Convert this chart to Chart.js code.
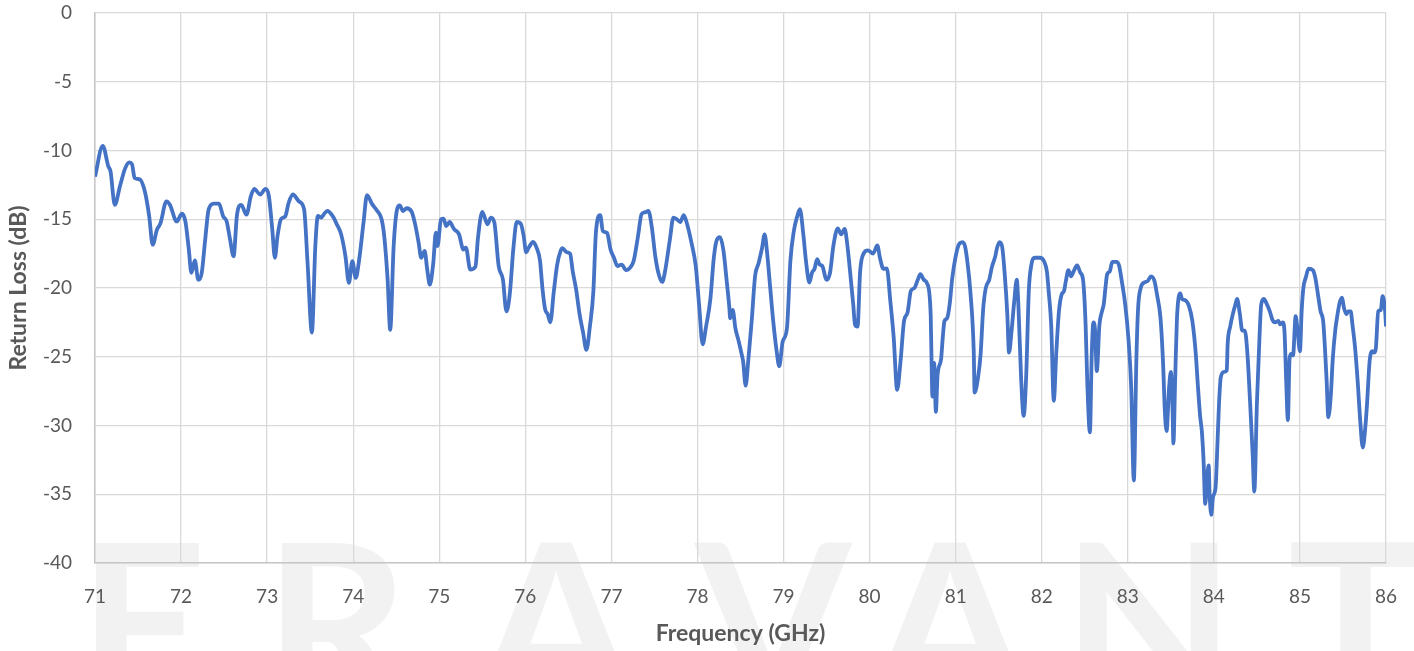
<!DOCTYPE html>
<html>
<head>
<meta charset="utf-8">
<title>Return Loss</title>
<script src="https://cdn.jsdelivr.net/npm/chart.js@4.4.1/dist/chart.umd.min.js"></script>
<style>
    html, body { margin: 0; padding: 0; background: #ffffff; }
    #wrap { position: absolute; left: 0; top: 0; width: 1414px; height: 651px; }
</style>
</head>
<body>
<div id="wrap"><canvas id="rl-chart" width="1414" height="651"></canvas></div>
<script>
const freqGHz = [
    71.00, 71.09, 71.155, 71.18, 71.23, 71.29, 71.35, 71.40, 71.43, 71.46, 71.52, 71.58, 71.63, 71.67, 71.72, 71.76, 71.83, 71.87, 71.95,
    72.01, 72.05, 72.09, 72.12, 72.16, 72.20, 72.24, 72.28, 72.32, 72.38, 72.44, 72.49, 72.53, 72.57, 72.61, 72.65, 72.70, 72.76, 72.81, 72.85, 72.92, 72.98,
    73.02, 73.06, 73.09, 73.12, 73.16, 73.21, 73.25, 73.30, 73.37, 73.43, 73.47, 73.52, 73.56, 73.59, 73.63, 73.66, 73.70, 73.76, 73.81, 73.86, 73.91, 73.95, 73.99,
    74.03, 74.07, 74.12, 74.16, 74.22, 74.28, 74.33, 74.36, 74.40, 74.43, 74.47, 74.51, 74.54, 74.58, 74.62, 74.68, 74.72, 74.76, 74.79, 74.83, 74.86, 74.89, 74.93, 74.96, 74.98,
    75.02, 75.05, 75.08, 75.12, 75.17, 75.23, 75.28, 75.31, 75.36, 75.42, 75.45, 75.50, 75.56, 75.60, 75.64, 75.69, 75.74, 75.78, 75.82, 75.86, 75.90, 75.95, 75.98,
    76.01, 76.04, 76.09, 76.13, 76.17, 76.20, 76.23, 76.26, 76.29, 76.33, 76.37, 76.41, 76.43, 76.48, 76.52, 76.55, 76.59, 76.63, 76.67, 76.71, 76.75, 76.79, 76.82, 76.87, 76.90, 76.95, 76.99,
    77.03, 77.07, 77.12, 77.17, 77.22, 77.26, 77.31, 77.35, 77.39, 77.43, 77.47, 77.51, 77.55, 77.59, 77.62, 77.68, 77.72, 77.76, 77.80, 77.84, 77.88, 77.93, 77.98,
    78.02, 78.06, 78.10, 78.15, 78.19, 78.22, 78.26, 78.30, 78.34, 78.37, 78.38, 78.41, 78.44, 78.48, 78.52, 78.53, 78.56, 78.59, 78.63, 78.67, 78.71, 78.75, 78.78, 78.81, 78.84, 78.88, 78.92, 78.95, 78.99,
    79.04, 79.08, 79.12, 79.16, 79.19, 79.23, 79.26, 79.30, 79.33, 79.36, 79.39, 79.42, 79.45, 79.50, 79.54, 79.58, 79.63, 79.67, 79.71, 79.74, 79.78, 79.81, 79.83, 79.86, 79.89, 79.93, 79.98,
    80.04, 80.09, 80.12, 80.16, 80.20, 80.24, 80.28, 80.32, 80.36, 80.40, 80.44, 80.48, 80.52, 80.56, 80.59, 80.63, 80.67, 80.71, 80.72, 80.73, 80.75, 80.77, 80.79, 80.83, 80.85, 80.87, 80.90, 80.93, 80.96,
    81.00, 81.04, 81.08, 81.11, 81.14, 81.17, 81.21, 81.22, 81.26, 81.29, 81.32, 81.35, 81.39, 81.42, 81.46, 81.48, 81.51, 81.54, 81.57, 81.60, 81.62, 81.65, 81.68, 81.71, 81.73, 81.76, 81.79, 81.82, 81.85, 81.88, 81.92, 81.98,
    82.03, 82.06, 82.08, 82.11, 82.14, 82.17, 82.20, 82.23, 82.26, 82.28, 82.31, 82.34, 82.37, 82.41, 82.45, 82.48, 82.51, 82.53, 82.56, 82.58, 82.60, 82.62, 82.64, 82.67, 82.70, 82.72, 82.74, 82.76, 82.79, 82.82, 82.87, 82.90, 82.93, 82.97,
    83.01, 83.04, 83.07, 83.10, 83.12, 83.15, 83.19, 83.23, 83.27, 83.31, 83.34, 83.38, 83.41, 83.43, 83.45, 83.48, 83.50, 83.52, 83.53, 83.55, 83.57, 83.59, 83.61, 83.63, 83.67, 83.71, 83.75, 83.79, 83.81, 83.84, 83.86, 83.88, 83.90, 83.92, 83.94, 83.95, 83.97, 83.99,
    84.02, 84.04, 84.06, 84.08, 84.12, 84.15, 84.16, 84.19, 84.22, 84.25, 84.27, 84.30, 84.33, 84.36, 84.39, 84.42, 84.45, 84.47, 84.50, 84.53, 84.55, 84.58, 84.61, 84.65, 84.68, 84.71, 84.75, 84.77, 84.80, 84.82, 84.84, 84.86, 84.88, 84.90, 84.92, 84.95, 84.97,
    85.00, 85.02, 85.04, 85.07, 85.10, 85.15, 85.18, 85.21, 85.24, 85.27, 85.29, 85.31, 85.33, 85.36, 85.38, 85.41, 85.44, 85.46, 85.49, 85.51, 85.54, 85.56, 85.59, 85.61, 85.64, 85.67, 85.70, 85.73, 85.76, 85.78, 85.81, 85.84, 85.86, 85.88, 85.91, 85.94, 85.96, 85.99,
    86.00
];

const returnLossDb = [
    -11.9, -9.66, -11.16, -11.5, -13.95, -12.6, -11.3, -10.87, -11.0, -12.0, -12.1, -13.0, -14.8, -16.85, -15.76, -15.3, -13.7, -13.95, -15.16,
    -14.6, -15.16, -17.2, -18.9, -18.0, -19.4, -18.9, -16.5, -14.3, -13.87, -13.87, -14.8, -15.16, -16.5, -17.7, -14.67, -13.95, -14.67, -13.34, -12.8, -13.2, -12.8,
    -13.3, -15.76, -17.8, -16.25, -15.0, -14.8, -13.8, -13.2, -13.7, -14.3, -18.2, -23.24, -16.95, -14.76, -14.88, -14.63, -14.4, -14.76, -15.37, -16.1, -17.7, -19.63, -18.05,
    -19.27, -17.9, -15.24, -13.24, -13.9, -14.4, -15.0, -16.2, -19.4, -23.05, -16.95, -14.27, -14.0, -14.4, -14.2, -14.46, -15.37, -16.7, -17.8, -17.3, -18.66, -19.76, -18.2, -15.98, -16.95,
    -15.0, -14.95, -15.5, -15.2, -15.7, -16.1, -17.2, -17.07, -18.66, -18.46, -16.34, -14.46, -15.37, -14.88, -15.24, -18.4, -19.4, -21.7, -20.4, -17.2, -15.2, -15.36, -16.2,
    -17.4, -17.06, -16.65, -17.06, -18.0, -20.1, -21.55, -21.9, -22.5, -20.3, -18.3, -17.3, -17.1, -17.4, -17.5, -18.76, -20.1, -21.9, -23.2, -24.5, -22.8, -20.3, -15.97, -14.7, -15.85, -16.0, -17.2,
    -17.8, -18.4, -18.3, -18.7, -18.5, -18.0, -16.2, -14.64, -14.5, -14.4, -15.6, -17.7, -19.0, -19.56, -18.9, -16.46, -14.88, -15.0, -15.2, -14.7, -15.36, -16.7, -18.4,
    -21.3, -24.1, -22.8, -20.8, -17.8, -16.6, -16.3, -17.2, -19.5, -21.4, -22.2, -21.6, -22.9, -23.9, -25.0, -25.3, -27.1, -25.3, -22.4, -19.1, -18.2, -17.1, -16.1, -17.5, -19.6, -22.4, -24.6, -25.7, -23.9,
    -22.9, -18.0, -15.85, -14.76, -14.27, -16.1, -18.0, -19.6, -18.9, -18.6, -17.9, -18.3, -18.4, -19.4, -18.9, -16.9, -15.66, -16.1, -15.7, -16.8, -19.25, -21.2, -22.65, -22.8, -18.8, -17.5, -17.26,
    -17.5, -16.9, -17.8, -18.6, -18.57, -20.9, -23.6, -27.4, -25.3, -22.4, -21.8, -20.2, -20.0, -19.4, -19.0, -19.4, -19.7, -22.0, -25.4, -27.9, -25.45, -29.0, -26.3, -25.2, -23.6, -22.4, -22.2, -21.2, -19.3,
    -17.7, -16.8, -16.66, -17.0, -18.3, -20.2, -24.6, -27.6, -26.5, -24.8, -21.5, -20.0, -19.4, -18.5, -17.7, -17.1, -16.66, -17.0, -19.0, -21.9, -24.7, -23.1, -21.0, -19.4, -21.45, -26.5, -29.3, -26.3, -20.2, -18.3, -17.8, -17.8,
    -18.1, -18.8, -20.2, -22.7, -28.2, -24.6, -21.7, -20.5, -20.2, -19.5, -18.7, -19.15, -18.8, -18.35, -18.9, -19.4, -22.7, -27.0, -30.5, -25.1, -22.5, -23.1, -26.05, -22.7, -21.7, -21.2, -20.0, -19.0, -18.8, -18.1, -18.1, -18.4, -19.5, -21.2,
    -23.9, -27.3, -34.0, -25.1, -21.45, -20.0, -19.6, -19.5, -19.16, -19.5, -20.5, -22.2, -25.5, -28.9, -30.4, -27.2, -26.1, -28.9, -31.3, -26.7, -22.4, -20.7, -20.4, -20.8, -20.9, -21.3, -22.4, -24.8, -26.7, -29.3, -30.4, -32.5, -35.7, -34.0, -32.9, -34.9, -36.5, -35.2,
    -34.5, -31.6, -28.4, -26.5, -26.1, -26.0, -24.1, -22.8, -21.9, -21.2, -20.8, -21.8, -23.1, -23.1, -24.8, -28.2, -32.0, -34.8, -28.4, -23.6, -21.2, -20.8, -21.1, -21.7, -22.3, -22.5, -22.4, -22.65, -22.5, -23.1, -26.7, -29.6, -25.1, -24.8, -24.9, -22.05, -22.9,
    -24.6, -21.7, -20.0, -19.2, -18.6, -18.7, -19.3, -20.5, -21.7, -22.4, -24.3, -26.7, -29.4, -27.7, -25.3, -23.1, -21.8, -21.1, -20.7, -21.4, -21.9, -21.7, -21.7, -22.65, -24.3, -26.7, -29.6, -31.6, -30.1, -28.4, -25.3, -24.6, -24.7, -24.5, -21.7, -21.6, -20.6, -21.7,
    -22.8
];

// Axis ranges
const xRange = [71, 86];
const yRange = [-40, 0];

// Build the point list for the line
const points = freqGHz.map((f, i) => ({ x: f, y: returnLossDb[i] }));

// Light grey brand mark behind the plot
const watermarkPlugin = {
    id: 'watermark',
    beforeDraw(chart) {
        const ctx = chart.ctx;
        ctx.save();
        ctx.fillStyle = '#ffffff';
        ctx.fillRect(0, 0, chart.width, chart.height);
        ctx.fillStyle = '#f2f2f2';
        ctx.font = 'bold 225px Lato';
        ctx.textBaseline = 'alphabetic';
        const marks = [['E', 78], ['R', 264], ['A', 478], ['V', 695], ['A', 872], ['N', 1062], ['T', 1288]];
        marks.forEach(function (m) {
            ctx.fillText(m[0], m[1], 705);
        });
        ctx.restore();
    }
};

const textGrey = '#595959';
const gridGrey = '#d9d9d9';

const config = {
    type: 'line',
    data: {
        datasets: [{
            label: 'Return Loss',
            data: points,
            borderColor: '#4472c4',
            borderWidth: 3.8,
            pointRadius: 0,
            fill: false,
            cubicInterpolationMode: 'monotone'
        }]
    },
    options: {
        responsive: false,
        animation: false,
        devicePixelRatio: 1,
        layout: { padding: { top: 13, right: 28, left: 0, bottom: 0 } },
        plugins: {
            legend: { display: false },
            tooltip: { enabled: false }
        },
        scales: {
            x: {
                type: 'linear',
                min: xRange[0],
                max: xRange[1],
                afterFit: function (scale) {
                    scale.height = 88;
                    scale.paddingLeft = 0;
                    scale.paddingRight = 0;
                },
                ticks: {
                    stepSize: 1,
                    padding: 22,
                    color: textGrey,
                    font: { family: 'Lato', size: 19 }
                },
                grid: { color: gridGrey, lineWidth: 1.3, drawTicks: false },
                border: { color: '#c6c6c6', width: 1.5 },
                title: {
                    display: true,
                    text: 'Frequency (GHz)',
                    color: textGrey,
                    font: { family: 'Lato', size: 23, weight: 'bold' },
                    padding: { top: 0, bottom: 4 }
                }
            },
            y: {
                min: yRange[0],
                max: yRange[1],
                afterFit: function (scale) {
                    scale.width = 95;
                    scale.paddingTop = 0;
                    scale.paddingBottom = 0;
                },
                ticks: {
                    stepSize: 5,
                    padding: 23,
                    color: textGrey,
                    font: { family: 'Lato', size: 19 }
                },
                grid: { color: gridGrey, lineWidth: 1.3, drawTicks: false },
                border: { color: '#c6c6c6', width: 1.5 },
                title: {
                    display: true,
                    text: 'Return Loss (dB)',
                    color: textGrey,
                    font: { family: 'Lato', size: 23, weight: 'bold' },
                    padding: { top: 5, bottom: 0 }
                }
            }
        }
    },
    plugins: [watermarkPlugin]
};

const rlChart = new Chart(document.getElementById('rl-chart'), config);
</script>
</body>
</html>
